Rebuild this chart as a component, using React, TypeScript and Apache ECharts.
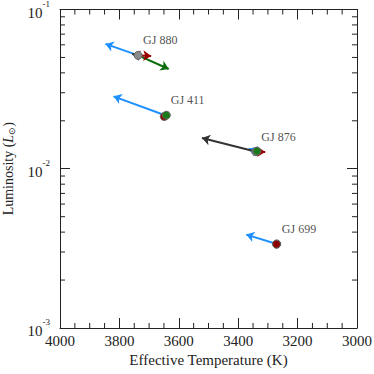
import React, { useEffect, useRef } from "react";
import * as echarts from "echarts";

const stars = ["GJ 880", "GJ 411", "GJ 876", "GJ 699"];
const teff = [3737, 3644, 3339, 3270];
const lum = [0.0515, 0.0216, 0.0128, 0.00337];

// arrow end points (null = no arrow)
const blueTeff = [3847, 3820, 3365, 3373];
const blueLum = [0.0608, 0.0285, 0.01335, 0.00386];
const redTeff = [3693, null, 3309, null];
const redLum = [0.0511, null, 0.01274, null];
const greenTeff = [3634, null, null, null];
const greenLum = [0.0423, null, null, null];
const blackTeff = [3757, null, 3522, null];
const blackLum = [0.0525, null, 0.01558, null];

// circle markers
const greyPtTeff = [3737, null, 3341, 3270];
const greyPtLum = [0.0515, null, 0.0128, 0.00337];
const redPtTeff = [null, 3649, null, 3271];
const redPtLum = [null, 0.0213, null, 0.00336];
const greenPtTeff = [null, 3642, 3337, null];
const greenPtLum = [null, 0.0217, 0.0129, null];

const xMinorTicks = [
  3950, 3900, 3850, 3750, 3700, 3650, 3550, 3500, 3450,
  3350, 3300, 3250, 3150, 3100, 3050,
];
const yMinorTicks = [
  0.002, 0.003, 0.004, 0.005, 0.006, 0.007, 0.008, 0.009,
  0.02, 0.03, 0.04, 0.05, 0.06, 0.07, 0.08, 0.09,
];

const FONT = "Liberation Serif, Times New Roman, serif";
const INK = "#222";

function arrowData(t: (number | null)[], l: (number | null)[]) {
  const out: any[] = [];
  t.forEach((v, i) => {
    if (v != null && l[i] != null) {
      out.push({ coords: [[teff[i], lum[i]], [v, l[i]]] });
    }
  });
  return out;
}
function ptData(t: (number | null)[], l: (number | null)[]) {
  const out: any[] = [];
  t.forEach((v, i) => {
    if (v != null && l[i] != null) out.push([v, l[i]]);
  });
  return out;
}

function arrowSeries(color: string, t: (number | null)[], l: (number | null)[]) {
  return {
    type: "lines",
    coordinateSystem: "cartesian2d",
    xAxisIndex: 0,
    yAxisIndex: 0,
    symbol: ["none", "arrow"],
    symbolSize: 8,
    lineStyle: { color, width: 2, opacity: 1, curveness: 0 },
    data: arrowData(t, l),
    z: 3,
  };
}

function ptSeries(color: string, t: (number | null)[], l: (number | null)[]) {
  return {
    type: "scatter",
    symbol: "circle",
    symbolSize: 8,
    itemStyle: { color, borderColor: "#666", borderWidth: 1, opacity: 1 },
    data: ptData(t, l),
    z: 4,
  };
}

export default function App() {
  const ref = useRef<HTMLDivElement>(null);
  useEffect(() => {
    document.body.style.margin = "0";
    if (!ref.current) return;
    const chart = echarts.init(ref.current, null, { renderer: "svg" });
    const xCommon = {
      type: "value",
      min: 3000,
      max: 4000,
      interval: 200,
      inverse: true,
      splitLine: { show: false },
      axisLine: { show: true, onZero: false, lineStyle: { color: INK, width: 1 } },
      axisTick: { show: true, inside: true, length: 10, lineStyle: { color: INK } },
    };
    const yCommon = {
      type: "log",
      logBase: 10,
      min: 0.001,
      max: 0.1,
      splitLine: { show: false },
      axisLine: { show: true, onZero: false, lineStyle: { color: INK, width: 1 } },
      axisTick: { show: true, inside: true, length: 10, lineStyle: { color: INK } },
    };
    const tickStyle = { stroke: INK, lineWidth: 1 };
    chart.setOption({
      animation: false,
      backgroundColor: "#fff",
      textStyle: { fontFamily: FONT },
      grid: { left: 60, right: 17, top: 9.5, bottom: 46, containLabel: false, outerBoundsMode: "none" },
      xAxis: [
        {
          ...xCommon,
          position: "bottom",
          name: "Effective Temperature (K)",
          nameLocation: "middle",
          nameGap: 20,
          nameTextStyle: { fontFamily: FONT, fontSize: 15, color: INK },
          axisLabel: {
            fontFamily: FONT,
            fontSize: 15,
            color: INK,
            margin: 5,
            formatter: (v: number) => String(v),
          },
        },
        { ...xCommon, position: "top", axisLabel: { show: false } },
      ],
      yAxis: [
        {
          ...yCommon,
          position: "left",
          name: "{a|Luminosity (}{i|L}{s|⊙}{a|)}",
          nameLocation: "middle",
          nameGap: 44,
          nameRotate: 90,
          nameTextStyle: {
            fontFamily: FONT,
            color: INK,
            fontSize: 14,
            rich: {
              a: { fontFamily: FONT, fontSize: 14, color: INK },
              i: { fontFamily: FONT, fontSize: 14, color: INK, fontStyle: "italic" },
              s: { fontFamily: FONT, fontSize: 9, color: INK, verticalAlign: "bottom", padding: [6, 0, 0, 0] },
            },
          },
          axisLabel: {
            margin: 10,
            color: INK,
            formatter: (v: number) => {
              const e = Math.round(Math.log10(v));
              return "{b|10}{s|" + e + "}";
            },
            rich: {
              b: { fontFamily: FONT, fontSize: 15, color: INK, padding: [6, 0, 0, 0] },
              s: { fontFamily: FONT, fontSize: 9, color: INK, verticalAlign: "top", padding: [0, 0, 6, 0] },
            },
          },
        },
        { ...yCommon, position: "right", axisLabel: { show: false } },
      ],
      series: [
        {
          type: "custom",
          xAxisIndex: 0,
          yAxisIndex: 0,
          clip: false,
          silent: true,
          data: yMinorTicks.map((v) => [3500, v]),
          renderItem: (params: any, api: any) => {
            const cs = params.coordSys;
            const y = api.coord([3500, api.value(1)])[1];
            return {
              type: "group",
              children: [
                { type: "line", shape: { x1: cs.x, y1: y, x2: cs.x + 5, y2: y }, style: tickStyle },
                { type: "line", shape: { x1: cs.x + cs.width - 5, y1: y, x2: cs.x + cs.width, y2: y }, style: tickStyle },
              ],
            };
          },
          z: 2,
        },
        {
          type: "custom",
          xAxisIndex: 0,
          yAxisIndex: 0,
          clip: false,
          silent: true,
          data: xMinorTicks.map((v) => [v, 0.01]),
          renderItem: (params: any, api: any) => {
            const cs = params.coordSys;
            const x = api.coord([api.value(0), 0.01])[0];
            return {
              type: "group",
              children: [
                { type: "line", shape: { x1: x, y1: cs.y, x2: x, y2: cs.y + 5 }, style: tickStyle },
                { type: "line", shape: { x1: x, y1: cs.y + cs.height - 5, x2: x, y2: cs.y + cs.height }, style: tickStyle },
              ],
            };
          },
          z: 2,
        },
        arrowSeries("#1e90ff", blueTeff, blueLum),
        arrowSeries("#333333", blackTeff, blackLum),
        arrowSeries("#0a6b0a", greenTeff, greenLum),
        arrowSeries("#9b0000", redTeff, redLum),
        ptSeries("#8c8c8c", greyPtTeff, greyPtLum),
        ptSeries("#8b0000", redPtTeff, redPtLum),
        ptSeries("#1a7a1a", greenPtTeff, greenPtLum),
        {
          type: "scatter",
          symbolSize: 0,
          silent: true,
          data: stars.map((s, i) => ({ name: s, value: [teff[i], lum[i]] })),
          label: {
            show: true,
            formatter: (p: any) => p.name,
            position: [5, -15],
            align: "left",
            verticalAlign: "middle",
            fontFamily: FONT,
            fontSize: 12,
            color: INK,
          },
          z: 5,
        },
      ],
    });
    return () => chart.dispose();
  }, []);
  return <div ref={ref} style={{ width: 374, height: 374 }} />;
}
